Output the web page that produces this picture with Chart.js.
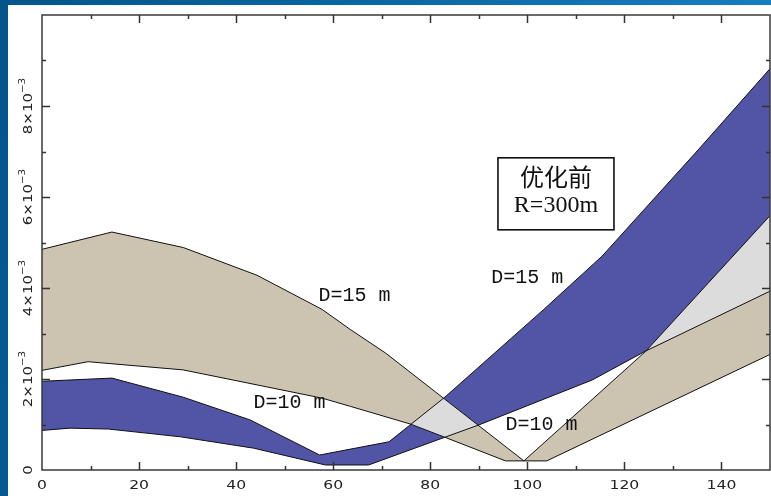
<!DOCTYPE html>
<html>
<head>
<meta charset="utf-8">
<script src="https://cdn.jsdelivr.net/npm/chart.js@4.4.1/dist/chart.umd.min.js"></script>
<style>
  html, body { margin: 0; padding: 0; }
  body {
    width: 771px; height: 496px; overflow: hidden; position: relative;
    background: linear-gradient(100deg, #03558a 0%, #0a68a4 45%, #1a82c6 100%);
  }
  #wrap { position: absolute; left: 8px; top: 5px; width: 763px; height: 491px; background: #fff; }
</style>
</head>
<body>
<div id="wrap"><canvas id="c" width="763" height="491"></canvas></div>
<script>
// Axis ranges (x: distance, y: value in units of 10^-3)
const xMin = 0, xMax = 150, xStep = 10, xLabelStep = 20;
const yMin = 0, yMax = 10, yStep = 1, yLabelStep = 2;
const xTickLabels = ['0', '20', '40', '60', '80', '100', '120', '140'];
const yTickLabels = ['0', '2', '4', '6', '8'];

// D = 15 m band (tan): upper and lower bounds
const d15UpperX = [0, 14.4, 29.1, 44.3, 57.7, 63.5, 70.8, 99.3, 124.4, 150];
const d15UpperY = [4.85, 5.23, 4.89, 4.28, 3.53, 3.09, 2.57, 0.20, 2.61, 5.59];
const d15LowerX = [0, 9.5, 29.1, 57.7, 63.5, 75.9, 83, 95.5, 104, 150];
const d15LowerY = [2.19, 2.38, 2.20, 1.58, 1.40, 1.01, 0.72, 0.20, 0.20, 2.54];

// D = 10 m band (blue): upper and lower bounds
const d10UpperX = [0, 14.4, 29.1, 42.9, 57.2, 71.5, 83, 103.4, 115.4, 135.4, 150];
const d10UpperY = [1.95, 2.02, 1.60, 1.10, 0.33, 0.62, 1.60, 3.53, 4.70, 7.06, 8.82];
const d10LowerX = [0, 5.8, 13.7, 28.5, 43.6, 58.4, 67.3, 83, 90, 113.4, 124.3, 150];
const d10LowerY = [0.87, 0.92, 0.90, 0.73, 0.48, 0.11, 0.11, 0.72, 0.99, 1.98, 2.61, 3.93];

// Curve labels and caption box
const curveLabels = [
  { text: 'D=15 m', x: 64.4, y: 3.82 },
  { text: 'D=15 m', x: 100.0, y: 4.23 },
  { text: 'D=10 m', x: 51.0, y: 1.47 },
  { text: 'D=10 m', x: 102.9, y: 1.00 }
];
const captionLines = ['优化前', 'R=300m'];
const captionAt = { x: 105.9, y: 6.07 };

const TAN = '#cdc3b1';
const BLUE = '#5254a6';
const OVERLAP = '#dcdcdc';
const LINE = '#111111';

const pts = (xs, ys) => xs.map((x, i) => ({ x, y: ys[i] }));

function edge(data) {
  return { data, borderColor: LINE, borderWidth: 1, pointRadius: 0, fill: false, tension: 0 };
}
function bandEdge(data, color, fill) {
  return { data, borderWidth: 0, borderColor: 'rgba(0,0,0,0)', backgroundColor: color,
           pointRadius: 0, fill, tension: 0 };
}

const datasets = [
  edge(pts(d10UpperX, d10UpperY)),                       // 0
  edge(pts(d10LowerX, d10LowerY)),                       // 1
  edge(pts(d15UpperX, d15UpperY)),                       // 2
  edge(pts(d15LowerX, d15LowerY)),                       // 3
  bandEdge(pts(d15UpperX, d15UpperY), OVERLAP, '+1'),    // 4 overlap fill (clipped to blue band)
  bandEdge(pts(d15LowerX, d15LowerY), OVERLAP, false),   // 5
  bandEdge(pts(d15UpperX, d15UpperY), TAN, '+1'),        // 6 tan band
  bandEdge(pts(d15LowerX, d15LowerY), TAN, false),       // 7
  bandEdge(pts(d10UpperX, d10UpperY), BLUE, '+1'),       // 8 blue band
  bandEdge(pts(d10LowerX, d10LowerY), BLUE, false)       // 9
];

// Outline of the blue band, used to clip the overlap fill
function blueBandPath(chart) {
  const up = chart.getDatasetMeta(8).data;
  const lo = chart.getDatasetMeta(9).data;
  const ctx = chart.ctx;
  ctx.beginPath();
  up.forEach((p, i) => i ? ctx.lineTo(p.x, p.y) : ctx.moveTo(p.x, p.y));
  for (let i = lo.length - 1; i >= 0; i--) ctx.lineTo(lo[i].x, lo[i].y);
  ctx.closePath();
}

const decor = {
  id: 'decor',
  afterDatasetDraw(chart, args) {
    if (args.index === 5) {
      chart.ctx.save();
      blueBandPath(chart);
      chart.ctx.clip();
    } else if (args.index === 4) {
      chart.ctx.restore();
    }
  },
  afterDraw(chart) {
    const ctx = chart.ctx;
    const a = chart.chartArea;
    const xs = chart.scales.x, ys = chart.scales.y;

    // frame
    ctx.save();
    ctx.strokeStyle = '#3a3a3a';
    ctx.lineWidth = 1.5;
    ctx.strokeRect(a.left, a.top, a.right - a.left, a.bottom - a.top);

    // inward ticks on all four sides
    ctx.strokeStyle = '#333';
    ctx.lineWidth = 1.5;
    ctx.beginPath();
    for (let v = xMin + xStep; v < xMax; v += xStep) {
      const px = Math.round(xs.getPixelForValue(v)) + 0.5;
      const len = (v % xLabelStep === 0) ? 8 : 4;
      ctx.moveTo(px, a.bottom); ctx.lineTo(px, a.bottom - len);
      ctx.moveTo(px, a.top); ctx.lineTo(px, a.top + len);
    }
    for (let v = yMin + yStep; v < yMax; v += yStep) {
      const py = Math.round(ys.getPixelForValue(v)) + 0.5;
      const len = (v % yLabelStep === 0) ? 8 : 4;
      ctx.moveTo(a.left, py); ctx.lineTo(a.left + len, py);
      ctx.moveTo(a.right, py); ctx.lineTo(a.right - len, py);
    }
    ctx.stroke();

    // x tick labels
    ctx.fillStyle = '#222';
    ctx.font = '13px "DejaVu Sans"';
    ctx.textAlign = 'center';
    ctx.textBaseline = 'alphabetic';
    xTickLabels.forEach((t) => {
      const px = xs.getPixelForValue(Number(t));
      ctx.save();
      ctx.translate(px, a.bottom + 19);
      ctx.scale(1.2, 1);
      ctx.fillText(t, 0, 0);
      ctx.restore();
    });

    // y tick labels, rotated, with ×10⁻³ exponent
    yTickLabels.forEach((t) => {
      const py = ys.getPixelForValue(Number(t));
      ctx.save();
      ctx.translate(a.left - 10, py);
      ctx.rotate(-Math.PI / 2);
      ctx.scale(1.15, 1);
      ctx.textAlign = 'left';
      ctx.textBaseline = 'alphabetic';
      if (t === '0') {
        ctx.font = '13px "DejaVu Sans"';
        const w = ctx.measureText('0').width;
        ctx.fillText('0', -w / 2, 0);
      } else {
        const main = t + '×10', sup = '−3';
        ctx.font = '13px "DejaVu Sans"';
        const wm = ctx.measureText(main).width;
        ctx.font = '9px "DejaVu Sans"';
        const wsup = ctx.measureText(sup).width;
        const start = -(wm + wsup) / 2;
        ctx.font = '13px "DejaVu Sans"';
        ctx.fillText(main, start, 0);
        ctx.font = '9px "DejaVu Sans"';
        ctx.fillText(sup, start + wm, -7);
      }
      ctx.restore();
    });

    // curve labels
    ctx.fillStyle = '#111';
    ctx.font = '20px "Liberation Mono"';
    ctx.textAlign = 'center';
    ctx.textBaseline = 'middle';
    curveLabels.forEach((l) => {
      ctx.fillText(l.text, xs.getPixelForValue(l.x), ys.getPixelForValue(l.y));
    });

    // caption box
    const cx = xs.getPixelForValue(captionAt.x), cy = ys.getPixelForValue(captionAt.y);
    const bw = 116, bh = 72;
    ctx.fillStyle = '#fff';
    ctx.fillRect(cx - bw / 2, cy - bh / 2, bw, bh);
    ctx.strokeStyle = '#000';
    ctx.lineWidth = 1.5;
    ctx.strokeRect(cx - bw / 2, cy - bh / 2, bw, bh);
    ctx.fillStyle = '#111';
    ctx.font = '24px "Noto Sans CJK SC"';
    ctx.fillText(captionLines[0], cx, cy - 17);
    ctx.font = '24px "Liberation Serif"';
    ctx.fillText(captionLines[1], cx, cy + 12);
    ctx.restore();
  }
};

new Chart(document.getElementById('c'), {
  type: 'line',
  data: { datasets },
  options: {
    responsive: false,
    animation: false,
    devicePixelRatio: 1,
    layout: { padding: { left: 34, right: 1, top: 10, bottom: 26 } },
    plugins: { legend: { display: false }, tooltip: { enabled: false } },
    scales: {
      x: { type: 'linear', min: xMin, max: xMax, display: false, ticks: { stepSize: xStep } },
      y: { type: 'linear', min: yMin, max: yMax, display: false, ticks: { stepSize: yStep } }
    }
  },
  plugins: [decor]
});
</script>
</body>
</html>
